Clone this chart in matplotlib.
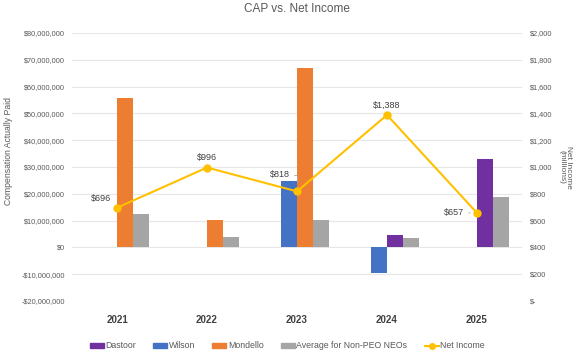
import numpy as np
import matplotlib.pyplot as plt
from matplotlib.patches import Patch
from matplotlib.lines import Line2D

plt.rcParams['font.family'] = ['Liberation Sans', 'DejaVu Sans']

# Data
years = ['2021', '2022', '2023', '2024', '2025']
dastoor = [np.nan, np.nan, np.nan, 4.5e6, 33.0e6]
wilson = [np.nan, np.nan, 24.7e6, -9.7e6, np.nan]
mondello = [55.8e6, 10.1e6, 66.8e6, np.nan, np.nan]
avg_neo = [12.4e6, 3.7e6, 10.1e6, 3.4e6, 18.7e6]
net_income = [696, 996, 818, 1388, 657]

# name, values, colour, slot inside the year group (Excel-style layout)
series = [('Dastoor', dastoor, '#7030A0', 2),
          ('Wilson', wilson, '#4472C4', 1),
          ('Mondello', mondello, '#ED7D31', 2),
          ('Average for Non-PEO NEOs', avg_neo, '#A5A5A5', 3)]
line_color = '#FFC000'
text_color = '#595959'

fig = plt.figure(figsize=(5.78, 3.54), dpi=100)
ax = fig.add_axes([0.1246, 0.1497, 0.7785, 0.7571])
ax2 = ax.twinx()

x = np.arange(len(years))
w = 0.178
for name, vals, col, slot in series:
    ax.bar(x + (slot - 1.5) * w, vals, width=w, color=col, zorder=2)

ax.set_xlim(-0.5, len(years) - 0.5)
ax.set_ylim(-20e6, 80e6)
ticks = np.arange(-20e6, 80e6 + 1, 10e6)
ax.set_yticks(ticks)
ax.set_yticklabels([('-$' if v < 0 else '$') + f'{abs(int(v)):,}' for v in ticks])
ax.yaxis.grid(True, color='#E6E6E6', lw=0.8, zorder=0)
ax.set_axisbelow(True)
ax.set_xticks(x)
ax.set_xticklabels(years, fontweight='bold', fontsize=7, color='#404040')
ax.tick_params(axis='x', length=0, pad=10)
ax.tick_params(axis='y', length=0, labelsize=5.3, labelcolor=text_color, pad=5)
ax.set_ylabel('Compensation Actually Paid', fontsize=6.2, color=text_color)
ax.yaxis.set_label_coords(-0.132, 0.56)

ax2.plot(x, net_income, color=line_color, lw=1.5, marker='o', ms=5, zorder=3)
ax2.set_ylim(0, 2000)
ax2.set_yticks(np.arange(0, 2001, 200))
ax2.set_yticklabels(['$-'] + [f'${v:,}' for v in range(200, 2001, 200)])
ax2.tick_params(axis='y', length=0, labelsize=5.3, labelcolor=text_color, pad=6)
ax2.set_ylabel('Net Income\n(millions)', fontsize=6, color=text_color,
               rotation=270, labelpad=14, linespacing=1.0)

for a in (ax, ax2):
    for s in a.spines.values():
        s.set_visible(False)

# data labels on the net income line
lead = dict(arrowstyle='-', color='#A6A6A6', lw=0.6, shrinkA=1, shrinkB=5)
labels = [((-4, 7), 'right', None),
          ((0, 7), 'center', None),
          ((-5, 12), 'right', dict(lead, connectionstyle='angle,angleA=0,angleB=90', shrinkB=7)),
          ((0, 7), 'center', None),
          ((-9, 0), 'right', lead)]
for xi, v, (off, ha, arrow) in zip(x, net_income, labels):
    ax2.annotate(f'${v:,}', (xi, v), xytext=off, textcoords='offset points',
                 ha=ha, va='center', fontsize=6.5, color='#404040',
                 arrowprops=arrow, zorder=4)

ax.set_title('CAP vs. Net Income', fontsize=8.5, color=text_color, pad=15)

handles = [Patch(color=c, label=n) for n, _, c, _ in series]
handles.append(Line2D([], [], color=line_color, lw=1.5, marker='o', ms=4, label='Net Income'))
fig.legend(handles=handles, loc='center', bbox_to_anchor=(0.497, 0.023), ncol=5,
           frameon=False, fontsize=6.3, labelcolor=text_color, handlelength=1.6,
           handleheight=0.45, handletextpad=0.15, columnspacing=2.0)

fig.savefig('out.png', dpi=100)
